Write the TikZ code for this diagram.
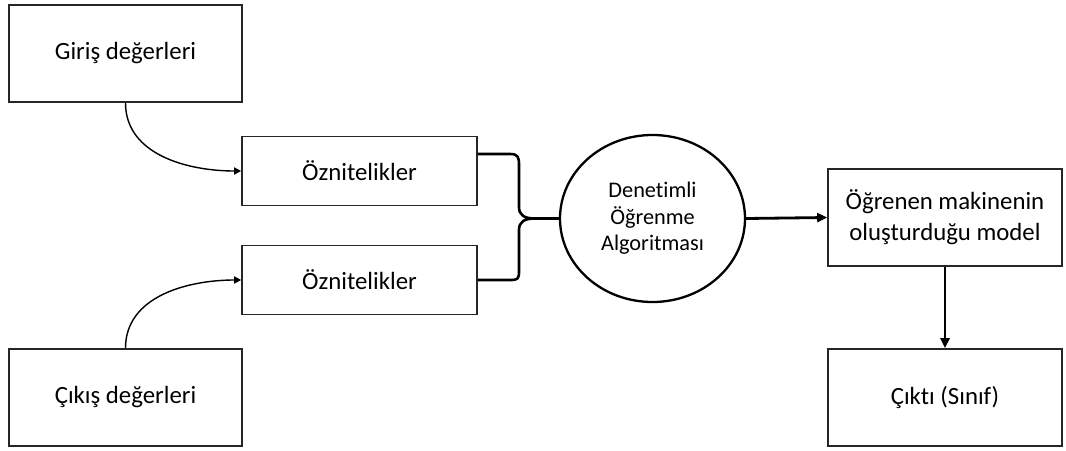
\documentclass[tikz,border=0pt]{standalone}
\usepackage{fontspec}
\setmainfont{Carlito}[Ligatures=NoCommon]
\usetikzlibrary{shapes.geometric,arrows.meta,calc}
\begin{document}
\begin{tikzpicture}[x=1pt,y=-1pt,
  box/.style={draw=black!85, line width=1.6pt, minimum width=233pt, inner sep=0pt, align=center, font=\fontsize{24.8}{31}\selectfont},
  smallbox/.style={box, minimum width=235pt, minimum height=69pt},
  bigbox/.style={box, minimum height=97pt},
  algo/.style={draw, ellipse, line width=2.3pt, minimum width=185pt, minimum height=167pt, inner sep=0pt, align=center, font=\fontsize{22.3}{26.5}\selectfont},
  thinarrow/.style={line width=1.4pt, -{Triangle[length=7pt,width=7pt]}},
  thickarrow/.style={line width=2.8pt, -{Triangle[length=10pt,width=9pt]}},
  bracestyle/.style={line width=2.6pt, line join=round}
]
\useasboundingbox (0,0) rectangle (1066,450);
\node[bigbox] (giris) at (125.5,53.5) {Giriş değerleri};
\node[bigbox] (cikis) at (125.5,397.5) {Çıkış değerleri};
\node[smallbox] (oz1) at (359.5,171) {Öznitelikler};
\node[smallbox] (oz2) at (359.5,280) {Öznitelikler};
\node[algo] (alg) at (652.5,218.5) {Denetimli\\Öğrenme\\Algoritması};
\node[bigbox, minimum width=234pt] (model) at (945,217.5) {Öğrenen makinenin\\oluşturduğu model};
\node[bigbox, minimum width=234pt] (cikti) at (945,397.5) {Çıktı (Sınıf)};

\draw[thinarrow] (giris.south) to[out=-90,in=180,looseness=1.0] (oz1.west);
\draw[thinarrow] (cikis.north) to[out=90,in=180,looseness=1.0] (oz2.west);

\coordinate (btop) at ($(oz1.east)+(0,-17)$);
\coordinate (bbot) at (oz2.east);
\coordinate (btip) at (535,218.5);
\draw[bracestyle] (btop) -- (510,154) .. controls (518,154) and (519,157) .. (519,165)
  -- (519,207) .. controls (519,215) and (524,218.5) .. (btip)
  .. controls (524,218.5) and (519,222) .. (519,230)
  -- (519,271) .. controls (519,279) and (518,280) .. (510,280) -- (bbot);
\draw[bracestyle] (btip) -- (alg.west);

\draw[thickarrow] (alg.east) -- (model.west);
\draw[thickarrow] (model.south) -- (cikti.north);
\end{tikzpicture}
\end{document}
